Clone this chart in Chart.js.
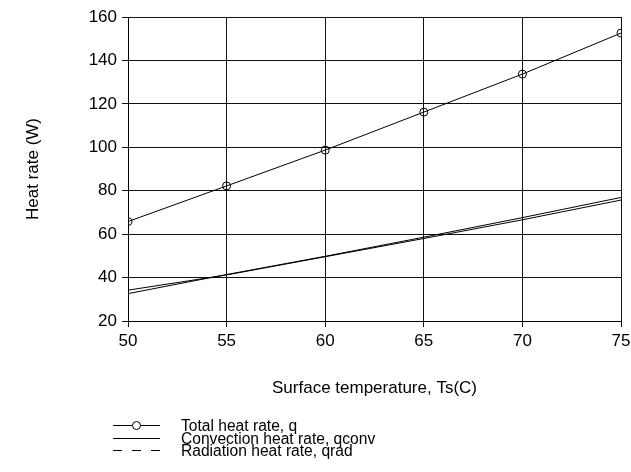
<!DOCTYPE html>
<html>
<head>
<meta charset="utf-8">
<script src="https://cdn.jsdelivr.net/npm/chart.js@4"></script>
<style>
  html, body { margin: 0; padding: 0; background: #fff; }
  #wrap { width: 631px; height: 472px; }
</style>
</head>
<body>
<div id="wrap"><canvas id="heatChart"></canvas></div>
<script>
const temps = [50, 55, 60, 65, 70, 75];
const totalQ = [65.8, 82.2, 98.7, 116.2, 133.7, 152.6];
const convQ = [34.2, 41.2, 49.6, 58.0, 66.6, 75.7];
const radQ = [32.6, 41.4, 49.8, 58.6, 67.6, 76.9];
const legendLabels = ['Total heat rate, q', 'Convection heat rate, qconv', 'Radiation heat rate, qrad'];

const FONT = '"Liberation Sans", Arial, sans-serif';
const toPoints = (ys) => temps.map((t, i) => ({ x: t, y: ys[i] }));

// legend drawn by hand: line sample + label, like the original figure
const legendPlugin = {
  id: 'figLegend',
  afterDraw(chart) {
    const ctx = chart.ctx;
    ctx.save();
    ctx.strokeStyle = '#000';
    ctx.fillStyle = '#000';
    ctx.lineWidth = 1;
    ctx.font = '15.6px ' + FONT;
    ctx.textBaseline = 'middle';
    legendLabels.forEach((label, i) => {
      const y = Math.round(425 + i * 12.5) + 0.5;
      ctx.setLineDash(i === 2 ? [9, 10] : []);
      ctx.beginPath();
      ctx.moveTo(113, y);
      ctx.lineTo(160, y);
      ctx.stroke();
      ctx.setLineDash([]);
      if (i === 0) {
        ctx.beginPath();
        ctx.arc(136.5, y, 4, 0, Math.PI * 2);
        ctx.fillStyle = '#fff';
        ctx.fill();
        ctx.stroke();
        ctx.fillStyle = '#000';
      }
      ctx.fillText(label, 181, y + 1);
    });
    ctx.restore();
  }
};

new Chart(document.getElementById('heatChart'), {
  type: 'line',
  data: {
    datasets: [
      { label: legendLabels[0], data: toPoints(totalQ), borderColor: '#000', borderWidth: 1,
        pointStyle: 'circle', pointRadius: 4, pointBorderColor: '#000', pointBackgroundColor: 'rgba(0,0,0,0)',
        pointBorderWidth: 1, clip: 0 },
      { label: legendLabels[1], data: toPoints(convQ), borderColor: '#000', borderWidth: 1, pointRadius: 0, clip: 0 },
      { label: legendLabels[2], data: toPoints(radQ), borderColor: '#000', borderWidth: 1, pointRadius: 0, clip: 0 },
    ],
  },
  options: {
    responsive: true, maintainAspectRatio: false, animation: false,
    layout: { padding: { left: 23, right: 10, top: 17, bottom: 73 } },
    plugins: { legend: { display: false }, tooltip: { enabled: false } },
    elements: { line: { tension: 0 } },
    scales: {
      x: {
        type: 'linear', min: 50, max: 75,
        afterFit: (s) => { s.height = 78; s.paddingRight = 0; s.paddingLeft = 0; },
        grid: { color: '#111', lineWidth: 1, tickLength: 6 },
        border: { color: '#000' },
        ticks: { stepSize: 5, color: '#000', padding: 4, font: { family: FONT, size: 17 } },
        title: { display: true, text: 'Surface temperature, Ts(C)', color: '#000', padding: 0,
                 font: { family: FONT, size: 17 } },
      },
      y: {
        min: 20, max: 160,
        afterFit: (s) => { s.width = 105; s.paddingTop = 0; s.paddingBottom = 0; },
        grid: { color: '#111', lineWidth: 1, tickLength: 6 },
        border: { color: '#000' },
        ticks: { stepSize: 20, color: '#000', padding: 5, font: { family: FONT, size: 17 } },
        title: { display: true, text: 'Heat rate (W)', color: '#000', padding: 0,
                 font: { family: FONT, size: 17 } },
      },
    },
  },
  plugins: [legendPlugin],
});
</script>
</body>
</html>
